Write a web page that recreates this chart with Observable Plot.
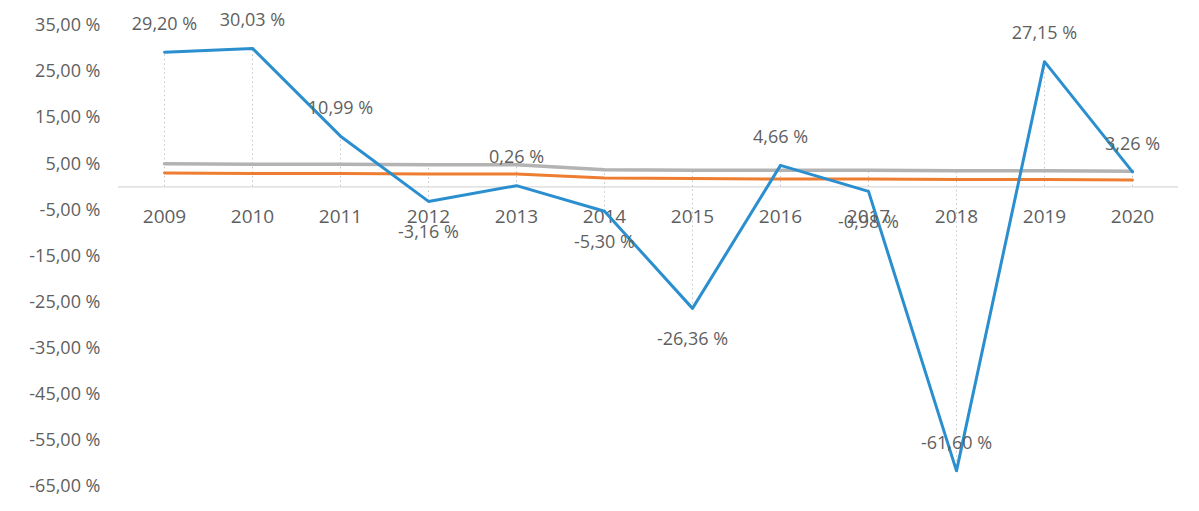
<!DOCTYPE html>
<html>
<head>
<meta charset="utf-8">
<script src="https://cdn.jsdelivr.net/npm/d3@7"></script>
<script src="https://cdn.jsdelivr.net/npm/@observablehq/plot@0.6"></script>
<style>
  html, body { margin: 0; padding: 0; background: #fff; }
  #chart { width: 1199px; height: 511px; overflow: hidden; }
</style>
</head>
<body>
<div id="chart"></div>
<script>
const years = ["2009","2010","2011","2012","2013","2014","2015","2016","2017","2018","2019","2020"];
const blueValues = [29.20, 30.03, 10.99, -3.16, 0.26, -5.30, -26.36, 4.66, -0.98, -61.60, 27.15, 3.26];
const grayValues = [5.0, 4.9, 4.9, 4.8, 4.8, 3.7, 3.6, 3.6, 3.6, 3.5, 3.5, 3.4];
const orangeValues = [3.0, 2.9, 2.9, 2.8, 2.8, 1.9, 1.8, 1.7, 1.7, 1.6, 1.6, 1.5];
const yTicks = [35, 25, 15, 5, -5, -15, -25, -35, -45, -55, -65];

const fmt = v => v.toFixed(2).replace(".", ",") + " %";

const blue = years.map((y, i) => ({year: y, v: blueValues[i]}));
const gray = years.map((y, i) => ({year: y, v: grayValues[i]}));
const orange = years.map((y, i) => ({year: y, v: orangeValues[i]}));
const drops = years.map((y, i) => {
  const vals = [blueValues[i], grayValues[i], orangeValues[i], 0];
  return {year: y, top: Math.max(...vals), bottom: Math.min(...vals)};
});
const minBlue = Math.min(...blueValues);
const above = blue.filter(d => !(d.v < 0 && d.v !== minBlue));
const below = blue.filter(d => d.v < 0 && d.v !== minBlue);

const textColor = "#5f5f5f";
const font = "Open Sans, Noto Sans, sans-serif";

const chart = Plot.plot({
  width: 1199,
  height: 511,
  marginLeft: 118,
  marginRight: 21,
  marginTop: 25,
  marginBottom: 25,
  style: {fontFamily: font, fontSize: "16px", color: textColor, background: "#fff"},
  x: {type: "point", domain: years, padding: 0.5, axis: null},
  y: {domain: [-65, 35], label: null, axis: null},
  marks: [
    Plot.axisY({ticks: yTicks, tickFormat: fmt, label: null, tickSize: 0, tickPadding: 18, fontSize: 18, fill: textColor}),
    Plot.ruleX(drops, {x: "year", y1: "bottom", y2: "top", stroke: "#c4c4c4", strokeWidth: 1, strokeDasharray: "1.5,3"}),
    Plot.ruleY([0], {stroke: "#d9d9d9", strokeWidth: 1.2}),
    Plot.text(years, {x: d => d, y: () => 0, dy: 30, text: d => d, fill: textColor, fontSize: 19}),
    Plot.line(gray, {x: "year", y: "v", stroke: "#b3b3b3", strokeWidth: 3.5}),
    Plot.line(orange, {x: "year", y: "v", stroke: "#ed7d31", strokeWidth: 3}),
    Plot.line(blue, {x: "year", y: "v", stroke: "#2b8fcf", strokeWidth: 3}),
    Plot.text(above, {x: "year", y: "v", dy: -28, text: d => fmt(d.v), fill: textColor, fontSize: 18}),
    Plot.text(below, {x: "year", y: "v", dy: 31, text: d => fmt(d.v), fill: textColor, fontSize: 18})
  ]
});
document.getElementById("chart").appendChild(chart);
</script>
</body>
</html>
